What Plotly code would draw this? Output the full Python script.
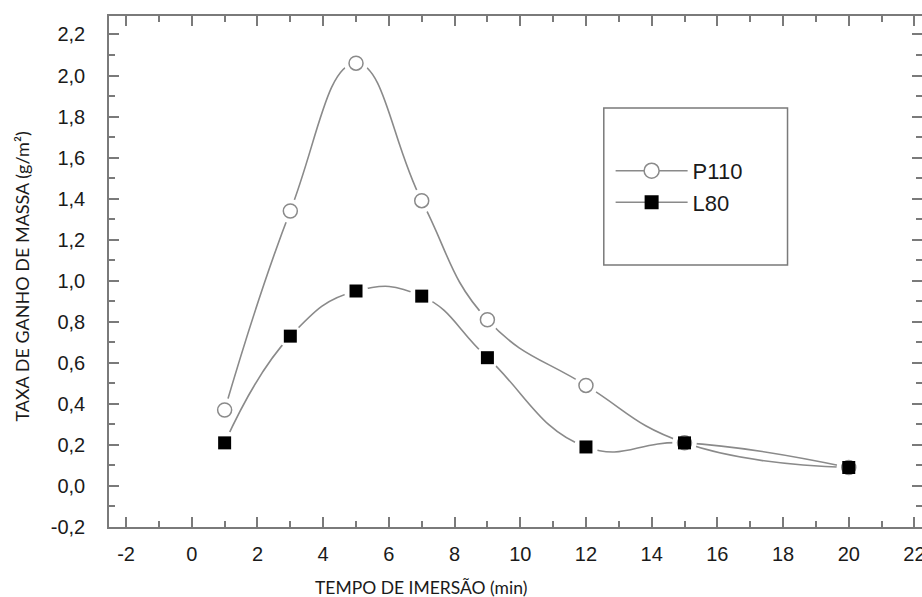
import plotly.graph_objects as go

# Data
tempo = [1, 3, 5, 7, 9, 12, 15, 20]
p110 = [0.37, 1.34, 2.06, 1.39, 0.81, 0.49, 0.21, 0.09]
l80 = [0.21, 0.73, 0.95, 0.925, 0.625, 0.19, 0.21, 0.09]

x_tickvals = [-2, 0, 2, 4, 6, 8, 10, 12, 14, 16, 18, 20, 22]
x_ticktext = ["-2", "0", "2", "4", "6", "8", "10", "12", "14", "16", "18", "20", "22"]
y_tickvals = [-0.2, 0.0, 0.2, 0.4, 0.6, 0.8, 1.0, 1.2, 1.4, 1.6, 1.8, 2.0, 2.2]
y_ticktext = ["-0,2", "0,0", "0,2", "0,4", "0,6", "0,8", "1,0", "1,2", "1,4", "1,6", "1,8", "2,0", "2,2"]

LINE = "#8a8a8a"
AXIS = "#7a7a7a"

fig = go.Figure()

# curves
for ys in (p110, l80):
    fig.add_trace(go.Scatter(x=tempo, y=ys, mode="lines",
                             line=dict(color=LINE, width=1.6, shape="spline", smoothing=1.3),
                             showlegend=False, hoverinfo="skip"))
# white masks to create gaps around markers
for ys in (p110, l80):
    fig.add_trace(go.Scatter(x=tempo, y=ys, mode="markers",
                             marker=dict(symbol="circle", size=24, color="white"),
                             showlegend=False, hoverinfo="skip"))
# markers
fig.add_trace(go.Scatter(x=tempo, y=p110, mode="markers",
                         marker=dict(symbol="circle", size=14, color="white",
                                     line=dict(color=LINE, width=1.5)),
                         showlegend=False))
fig.add_trace(go.Scatter(x=tempo, y=l80, mode="markers",
                         marker=dict(symbol="square", size=13, color="black",
                                     line=dict(color="black", width=0)),
                         showlegend=False))
# legend entries
fig.add_trace(go.Scatter(x=[None], y=[None], mode="lines+markers", name="P110",
                         line=dict(color=LINE, width=1.6),
                         marker=dict(symbol="circle", size=15, color="white",
                                     line=dict(color=LINE, width=1.5))))
fig.add_trace(go.Scatter(x=[None], y=[None], mode="lines+markers", name="L80",
                         line=dict(color=LINE, width=1.6),
                         marker=dict(symbol="square", size=14, color="black")))

axis_common = dict(
    showline=True, linecolor=AXIS, linewidth=1.5, mirror="allticks",
    ticks="inside", ticklen=10, tickwidth=1.5, tickcolor=AXIS,
    showgrid=False, zeroline=False, automargin=False, ticklabeloverflow="allow",
    tickfont=dict(family="Liberation Sans, Arial", size=20, color="#1a1a1a"),
)

fig.update_xaxes(**axis_common, range=[-2.52, 22.23], tickmode="array",
                 tickvals=x_tickvals, ticktext=x_ticktext, ticklabelstandoff=8,
                 minor=dict(dtick=1, tick0=0, ticks="inside", ticklen=6,
                            tickwidth=1.5, tickcolor=AXIS))
fig.update_yaxes(**axis_common, range=[-0.2, 2.29], tickmode="array",
                 tickvals=y_tickvals, ticktext=y_ticktext, ticklabelstandoff=18,
                 minor=dict(dtick=0.1, tick0=0, ticks="inside", ticklen=6,
                            tickwidth=1.5, tickcolor=AXIS))

fig.add_shape(type="rect", xref="paper", yref="paper",
              x0=0.6086, x1=0.8346, y0=0.5127, y1=0.820,
              line=dict(color=AXIS, width=1.5), fillcolor="rgba(0,0,0,0)")

fig.add_annotation(text="TEMPO DE IMERSÃO (min)", xref="paper", yref="paper",
                   x=0.384, y=-0.119, xanchor="center", yanchor="middle",
                   showarrow=False, font=dict(family="Lato", size=17.5, color="#1a1a1a"))
fig.add_annotation(text="TAXA DE GANHO DE MASSA (g/m²)", xref="paper", yref="paper",
                   x=-0.107, y=0.49, xanchor="center", yanchor="middle", textangle=-90,
                   showarrow=False, font=dict(family="Lato", size=18, color="#1a1a1a"))

fig.update_layout(
    width=922, height=597,
    margin=dict(l=109, r=0, t=16, b=70, autoexpand=False),
    paper_bgcolor="white", plot_bgcolor="white",
    showlegend=True,
    legend=dict(x=0.617, y=0.738, xanchor="left", yanchor="top",
                bgcolor="rgba(0,0,0,0)", borderwidth=0,
                font=dict(family="Liberation Sans, Arial", size=22, color="#1a1a1a"),
                itemwidth=72),
)

# remove the default page margin so the 922x597 figure fills the window exactly
fig.write_html("out.html",
               config={"displayModeBar": False},
               post_script="document.body.style.margin='0';document.body.style.overflow='hidden';")
